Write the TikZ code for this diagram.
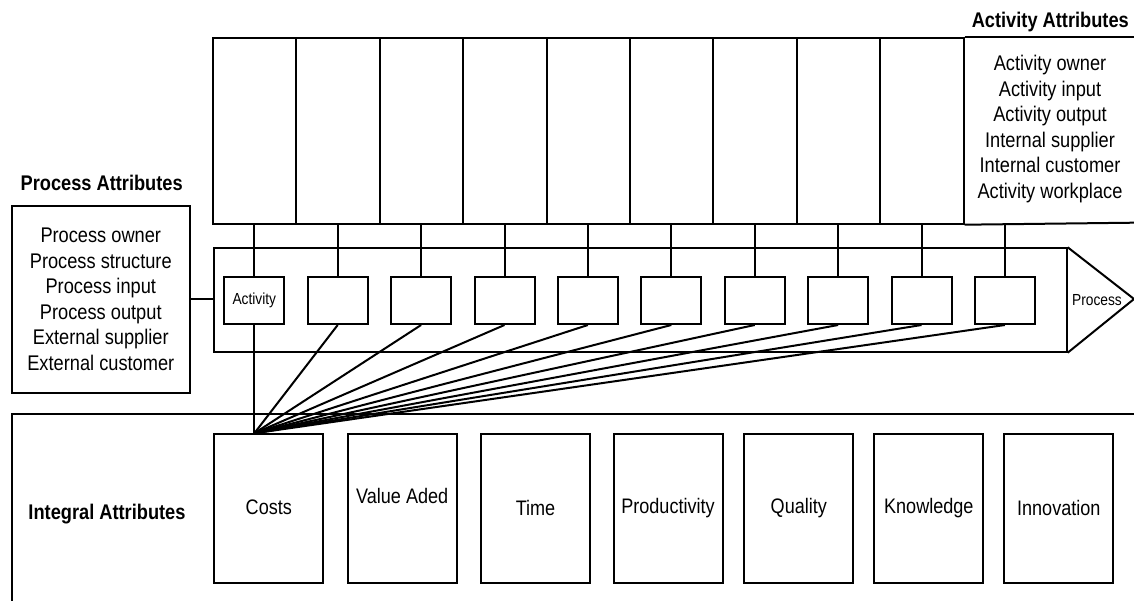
\documentclass[tikz,border=0pt]{standalone}
\usepackage{fontspec}
\setmainfont{Liberation Sans}[FakeStretch=0.86]
\begin{document}
\begin{tikzpicture}[x=1pt,y=-1pt,line width=2pt,
  col/.style={draw,minimum width=83.4pt,minimum height=186pt,inner sep=0pt,anchor=north west},
  actbox/.style={draw,minimum width=60pt,minimum height=47.3pt,inner sep=0pt,anchor=north west,font=\fontsize{16}{18}\selectfont},
  intbox/.style={draw,minimum width=109pt,minimum height=148.7pt,inner sep=0pt,anchor=north west},
  txt/.style={font=\fontsize{21}{25}\selectfont,inner sep=0pt},
  lbl/.style={font=\fontsize{21.2}{25.6}\selectfont\bfseries,inner sep=0pt},
  lst/.style={align=center,font=\fontsize{21.2}{25.6}\selectfont,inner sep=0pt}]
\useasboundingbox (0,0) rectangle (1134,601);
% top activity columns
\foreach \k in {0,...,8} \node[col] (c\k) at ({212+83.4*\k},36.7) {};
\coordinate (tr) at (1134,36.7);
\coordinate (br) at (1134,222.7);
\draw (c8.north east) -- (tr);
\draw (c8.south east) -- (br);
\coordinate (c9) at (1004,222.7);
\node[lst] (aa) at (1050,129) {Activity owner\\Activity input\\Activity output\\Internal supplier\\Internal customer\\Activity workplace};
\node[lbl] (aal) at (1050.3,22) {Activity Attributes};
% process arrow
\node[draw,minimum width=852.7pt,minimum height=103.4pt,inner sep=0pt,anchor=north west] (proc) at (213,247.3) {};
\coordinate (tip) at (1134,299);
\draw (proc.north east) -- (tip) -- (proc.south east);
\node[font=\fontsize{16}{18}\selectfont,inner sep=0pt] (pl) at (1097,300) {Process};
% activity boxes
\node[actbox] (a0) at (223.3,275.7) {Activity};
\foreach \k in {1,...,9} \node[actbox] (a\k) at ({223.3+83.4*\k},275.7) {};
\foreach \k in {0,...,8} \draw (a\k.north) -- (a\k.north |- c\k.south);
\draw (a9.north) -- (a9.north |- c9);
% process attributes
\node[draw,minimum width=177.7pt,minimum height=186.7pt,inner sep=0pt,lst] (pa) at (100.8,299.3) {Process owner\\Process structure\\Process input\\Process output\\External supplier\\External customer};
\node[lbl] (pal) at (101.7,183) {Process Attributes};
\draw (pa.east) -- (pa.east -| proc.west);
% integral region
\coordinate (il) at (12,601);
\coordinate (itl) at (12,414);
\coordinate (itr) at (1134,414);
\draw (il) -- (itl) -- (itr);
\node[lbl] (ial) at (107,514.3) {Integral Attributes};
\node[intbox] (i0) at (213.3,433.3) {};
\node[intbox] (i1) at (346.7,433.3) {};
\node[intbox] (i2) at (480,433.3) {};
\node[intbox] (i3) at (612.5,433.3) {};
\node[intbox] (i4) at (743.3,433.3) {};
\node[intbox] (i5) at (873.3,433.3) {};
\node[intbox] (i6) at (1003.3,433.3) {};
\node[txt] (t0) at ([yshift=1pt]i0.center) {Costs};
\node[txt] (t1) at ([yshift=12.7pt]i1.center) {Value Aded};
\node[txt] (t2) at ([yshift=1pt]i2.center) {Time};
\node[txt] (t3) at ([yshift=1pt]i3.center) {Productivity};
\node[txt] (t4) at ([yshift=1pt]i4.center) {Quality};
\node[txt] (t5) at ([yshift=1pt]i5.center) {Knowledge};
\node[txt] (t6) at ([yshift=1pt]i6.center) {Innovation};
% fan of connectors
\coordinate (hub) at (a0.south |- i0.north);
\draw (a0.south) -- (hub);
\foreach \k in {1,...,9} \draw (a\k.south) -- (hub);
\end{tikzpicture}
\end{document}
